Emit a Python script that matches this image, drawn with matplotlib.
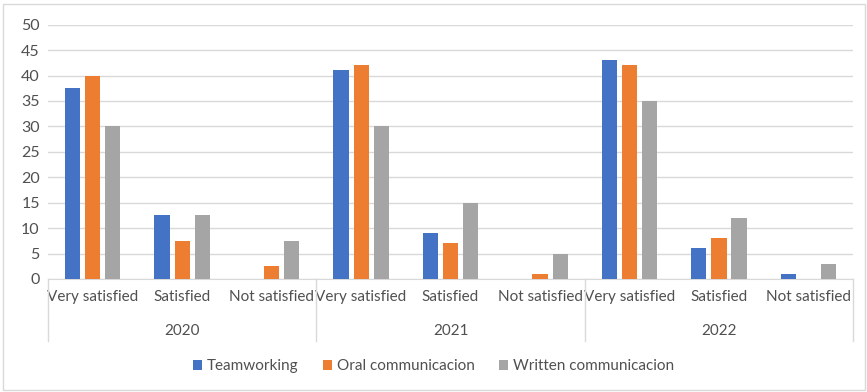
import matplotlib
matplotlib.use("Agg")
from matplotlib import pyplot as plt
from matplotlib.patches import Rectangle
import matplotlib.transforms as mtransforms
import numpy as np

years = ["2020", "2021", "2022"]
levels = ["Very satisfied", "Satisfied", "Not satisfied"]
series_names = ["Teamworking", "Oral communicacion", "Written communicacion"]

teamworking = [37.5, 12.5, 0, 41, 9, 0, 43, 6, 1]
oral = [40, 7.5, 2.5, 42, 7, 1, 42, 8, 0]
written = [30, 12.5, 7.5, 30, 15, 5, 35, 12, 3]

colors = ["#4472C4", "#ED7D31", "#A5A5A5"]
text_color = "#505050"

plt.rcParams["font.family"] = ["Lato", "DejaVu Sans"]

fig = plt.figure(figsize=(8.67, 3.92), dpi=100)
ax = fig.add_axes([0.0554, 0.2883, 0.9286, 0.6487])

x = np.arange(len(teamworking))
width = 0.17
step = 0.225
for i, (vals, name) in enumerate(zip([teamworking, oral, written], series_names)):
    ax.bar(x + (i - 1) * step, vals, width, color=colors[i], label=name, zorder=3)

ax.set_xlim(-0.5, len(x) - 0.5)
ax.set_ylim(0, 50)
ax.set_yticks(range(0, 51, 5))
ax.yaxis.grid(True, color="#D9D9D9", linewidth=1)
ax.set_axisbelow(True)
for s in ["top", "right", "left"]:
    ax.spines[s].set_visible(False)
ax.spines["bottom"].set_color("#D9D9D9")
ax.tick_params(axis="y", length=0, labelsize=11.5, labelcolor=text_color, pad=6)
ax.tick_params(axis="x", length=0, labelsize=11, labelcolor=text_color, pad=8)
ax.set_xticks(x)
ax.set_xticklabels(levels * len(years))

# second level of the category axis: years and divider lines
trans = mtransforms.blended_transform_factory(ax.transData, ax.transAxes)
for k, yr in enumerate(years):
    ax.text(3 * k + 1, -0.205, yr, transform=trans, ha="center", va="center",
            fontsize=11, color=text_color)
for k in range(len(years) + 1):
    ax.plot([3 * k - 0.5, 3 * k - 0.5], [0, -0.245], transform=trans,
            color="#D9D9D9", linewidth=1, clip_on=False)

leg = fig.legend(loc="center", bbox_to_anchor=(0.5, 0.066), ncol=3, frameon=False,
                 handlelength=0.6, handleheight=0.6, handletextpad=0.3,
                 columnspacing=1.6, fontsize=11)
for t in leg.get_texts():
    t.set_color(text_color)

fig.patches.append(Rectangle((3 / 867, 2 / 392), 862 / 867, 386 / 392,
                             transform=fig.transFigure, fill=False,
                             edgecolor="#D9D9D9", linewidth=1))

fig.savefig("out.png", dpi=100)
